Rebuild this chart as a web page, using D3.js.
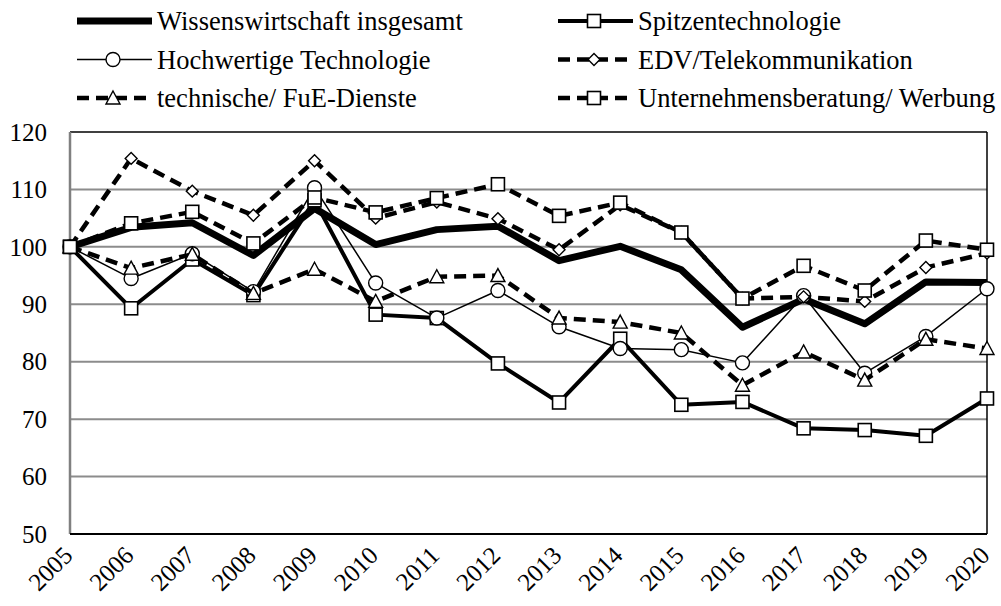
<!DOCTYPE html>
<html>
<head>
<meta charset="utf-8">
<script src="https://cdn.jsdelivr.net/npm/d3@7"></script>
<style>
  body { margin: 0; background: #fff; }
</style>
</head>
<body>
<svg width="1001" height="606"></svg>
<script>
// Jahre und Indexwerte (2005 = 100)
var years = [2005, 2006, 2007, 2008, 2009, 2010, 2011, 2012, 2013, 2014, 2015, 2016, 2017, 2018, 2019, 2020];

var wissenswirtschaft = [100, 103.4, 104.2, 98.5, 106.7, 100.4, 103.0, 103.6, 97.6, 100.1, 96.0, 86.0, 90.9, 86.6, 93.9, 93.8];
var spitzentechnologie = [100, 89.3, 97.8, 91.6, 108.1, 88.2, 87.6, 79.7, 72.9, 84.0, 72.5, 73.0, 68.4, 68.1, 67.1, 73.6];
var hochwertige = [100, 94.5, 98.8, 92.2, 110.3, 93.7, 87.6, 92.4, 86.1, 82.3, 82.1, 79.8, 91.5, 78.0, 84.4, 92.7];
var edv = [100, 115.4, 109.7, 105.5, 115.0, 105.0, 107.8, 104.9, 99.5, 107.3, 102.5, 91.0, 91.3, 90.5, 96.4, 98.9];
var fue = [100, 96.3, 98.7, 91.9, 96.1, 90.5, 94.8, 95.0, 87.6, 86.9, 85.0, 75.9, 81.7, 76.8, 83.9, 82.3];
var beratung = [100, 104.1, 106.1, 100.6, 108.6, 106.0, 108.5, 110.9, 105.4, 107.7, 102.5, 91.0, 96.7, 92.4, 101.1, 99.5];

var yTicks = [50, 60, 70, 80, 90, 100, 110, 120];

var series = [
  {name: "Wissenswirtschaft insgesamt", values: wissenswirtschaft, width: 7, dash: null, marker: null},
  {name: "Spitzentechnologie", values: spitzentechnologie, width: 4, dash: null, marker: "square"},
  {name: "Hochwertige Technologie", values: hochwertige, width: 1.5, dash: null, marker: "circle"},
  {name: "EDV/Telekommunikation", values: edv, width: 4.5, dash: "12,7", marker: "diamond"},
  {name: "technische/ FuE-Dienste", values: fue, width: 4.5, dash: "12,7", marker: "triangle"},
  {name: "Unternehmensberatung/ Werbung", values: beratung, width: 4.5, dash: "12,7", marker: "square"}
];

var FONT = "Liberation Serif";
var svg = d3.select("svg");
var plotL = 70, plotR = 987, plotT = 132, plotB = 534;

var x = d3.scalePoint().domain(years).range([plotL, plotR]);
var y = d3.scaleLinear().domain([50, 120]).range([plotB, plotT]);

// Gitterlinien
svg.append("g").selectAll("line")
    .data(yTicks.filter(function(d) { return d > 50 && d < 120; }))
    .enter().append("line")
    .attr("x1", plotL).attr("x2", plotR)
    .attr("y1", function(d) { return y(d); })
    .attr("y2", function(d) { return y(d); })
    .attr("stroke", "#8c8c8c")
    .attr("stroke-width", 2);

// Rahmen
svg.append("line").attr("x1", plotL).attr("x2", plotR).attr("y1", plotT).attr("y2", plotT)
    .attr("stroke", "#000").attr("stroke-width", 1.5);
svg.append("line").attr("x1", plotR).attr("x2", plotR).attr("y1", plotT).attr("y2", plotB)
    .attr("stroke", "#000").attr("stroke-width", 1.5);
svg.append("line").attr("x1", plotL).attr("x2", plotL).attr("y1", plotT).attr("y2", plotB)
    .attr("stroke", "#808080").attr("stroke-width", 2.5);
svg.append("line").attr("x1", plotL).attr("x2", plotR).attr("y1", plotB).attr("y2", plotB)
    .attr("stroke", "#000").attr("stroke-width", 2);

// Achsenbeschriftung
svg.append("g").selectAll("text")
    .data(yTicks)
    .enter().append("text")
    .attr("x", 47)
    .attr("y", function(d) { return y(d); })
    .attr("dy", "0.35em")
    .attr("text-anchor", "end")
    .attr("font-family", FONT)
    .attr("font-size", 25)
    .text(function(d) { return d; });

svg.append("g").selectAll("text")
    .data(years)
    .enter().append("text")
    .attr("transform", function(d) { return "translate(" + (x(d) + 4) + "," + 557 + ") rotate(-45)"; })
    .attr("text-anchor", "end")
    .attr("font-family", FONT)
    .attr("font-size", 25)
    .text(function(d) { return d; });

function drawMarker(sel, type, cx, cy) {
  if (type === "square") {
    sel.append("rect").attr("x", cx - 6.5).attr("y", cy - 6.5).attr("width", 13).attr("height", 13)
      .attr("fill", "#fff").attr("stroke", "#000").attr("stroke-width", 1.6);
  } else if (type === "circle") {
    sel.append("circle").attr("cx", cx).attr("cy", cy).attr("r", 7)
      .attr("fill", "#fff").attr("stroke", "#000").attr("stroke-width", 1.4);
  } else if (type === "diamond") {
    sel.append("path").attr("d", d3.symbol().type(d3.symbolDiamond2).size(90)())
      .attr("transform", "translate(" + cx + "," + cy + ")")
      .attr("fill", "#fff").attr("stroke", "#000").attr("stroke-width", 1.4);
  } else if (type === "triangle") {
    sel.append("path").attr("d", "M0,-7L7,6L-7,6Z")
      .attr("transform", "translate(" + cx + "," + cy + ")")
      .attr("fill", "#fff").attr("stroke", "#000").attr("stroke-width", 1.4);
  }
}

var line = d3.line()
    .x(function(d, i) { return x(years[i]); })
    .y(function(d) { return y(d); });

series.forEach(function(s) {
  var g = svg.append("g");
  g.append("path")
    .datum(s.values)
    .attr("d", line)
    .attr("fill", "none")
    .attr("stroke", "#000")
    .attr("stroke-width", s.width)
    .attr("stroke-linejoin", "round")
    .attr("stroke-dasharray", s.dash);
  if (s.marker) {
    s.values.forEach(function(v, i) { drawMarker(g, s.marker, x(years[i]), y(v)); });
  }
});

// Legende
var legend = svg.append("g");
series.forEach(function(s, i) {
  var col = i % 2, row = Math.floor(i / 2);
  var tx = col === 0 ? 157 : 638, ly = [21, 59.5, 98][row];
  var g = legend.append("g");
  g.append("line")
    .attr("x1", tx - 80).attr("x2", tx - 5).attr("y1", ly).attr("y2", ly)
    .attr("stroke", "#000").attr("stroke-width", s.width)
    .attr("stroke-dasharray", s.dash);
  if (s.marker) drawMarker(g, s.marker, tx - 44, ly);
  g.append("text")
    .attr("x", tx).attr("y", ly).attr("dy", "0.35em")
    .attr("font-family", FONT)
    .attr("font-size", 26.5)
    .text(s.name);
});
</script>
</body>
</html>
